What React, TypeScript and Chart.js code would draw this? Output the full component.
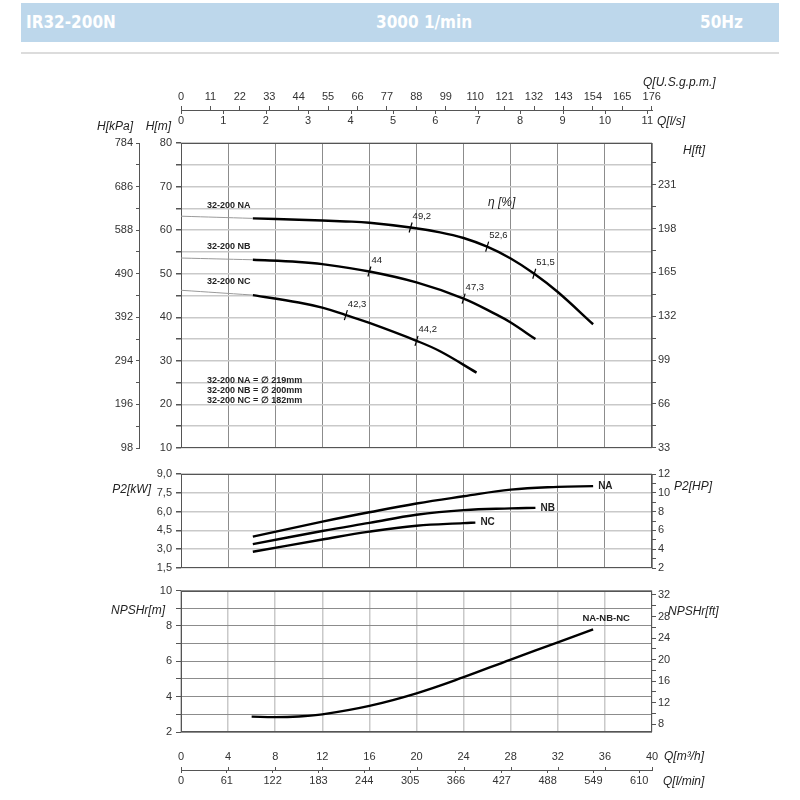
import { useEffect, useRef } from 'react';
import Chart from 'chart.js/auto';

const FONT = '"Liberation Sans", Arial, Helvetica, sans-serif';

// flow axes
const m3hTicks = [0, 4, 8, 12, 16, 20, 24, 28, 32, 36, 40];
const lminTicks = [0, 61, 122, 183, 244, 305, 366, 427, 488, 549, 610];
const gpmTicks = [0, 11, 22, 33, 44, 55, 66, 77, 88, 99, 110, 121, 132, 143, 154, 165, 176];
const lpsTicks = [0, 1, 2, 3, 4, 5, 6, 7, 8, 9, 10, 11];

// head / power / npsh axes
const headMTicks = [10, 20, 30, 40, 50, 60, 70, 80];
const headKpaTicks = [98, 196, 294, 392, 490, 588, 686, 784];
const headFtTicks = [33, 66, 99, 132, 165, 198, 231];
const p2KwTicks = [1.5, 3, 4.5, 6, 7.5, 9];
const p2HpTicks = [2, 4, 6, 8, 10, 12];
const npshMTicks = [2, 4, 6, 8, 10];
const npshFtTicks = [8, 12, 16, 20, 24, 28, 32];

// H-Q curves [m3/h, m]
const qNA = [6.1, 10, 14, 16, 19.5, 22, 24, 26, 28, 30, 32, 35];
const hNA = [62.7, 62.4, 62.0, 61.7, 60.6, 59.5, 58.2, 56.2, 53.5, 50.0, 45.8, 38.4];
const qNB = [6.1, 10, 12, 16, 20, 24, 26.8, 28, 30.1];
const hNB = [53.2, 52.7, 52.2, 50.5, 48.0, 44.3, 40.6, 38.8, 35.0];
const qNC = [6.1, 10, 12, 14, 16, 20, 22, 25.1];
const hNC = [45.1, 43.4, 42.2, 40.5, 38.7, 34.6, 32.2, 27.3];

// thin extension to shut-off head
const qShut = [0, 6.1];
const hShutNA = [63.2, 62.7];
const hShutNB = [53.6, 53.2];
const hShutNC = [46.2, 45.1];

// efficiency marks
const effQNA = [19.5, 26, 30];
const effHNA = [60.6, 56.2, 50.0];
const effNA = ['49,2', '52,6', '51,5'];
const effQNB = [16, 24];
const effHNB = [50.5, 44.3];
const effNB = ['44', '47,3'];
const effQNC = [14, 20];
const effHNC = [40.5, 34.6];
const effNC = ['42,3', '44,2'];

// P2 curves [m3/h, kW]
const qP2NA = [6.1, 12, 16, 20, 24, 28, 32, 35];
const p2NA = [4.0, 5.2, 5.95, 6.65, 7.22, 7.75, 7.97, 8.03];
const qP2NB = [6.1, 12, 16, 20, 24, 28, 30.1];
const p2NB = [3.4, 4.45, 5.1, 5.75, 6.12, 6.26, 6.3];
const qP2NC = [6.1, 12, 16, 20, 24, 25];
const p2NC = [2.8, 3.77, 4.4, 4.87, 5.08, 5.12];

// NPSHr [m3/h, m]
const qNpsh = [6, 8, 10, 12, 16, 20, 24, 28, 32, 35];
const npsh = [2.87, 2.84, 2.88, 3.0, 3.48, 4.19, 5.1, 6.1, 7.07, 7.8];

const M_TO_FT = 3.28084;

const ink = '#555';
const darkGrid = '#8c8c8c';
const lightGrid = '#c9c9c9';
const tickFont = { family: FONT, size: 11 };
const italic12 = `italic 12px ${FONT}`;

Chart.defaults.font.family = FONT;

const fixWidth = (w: number) => (s: any) => { s.width = w; };
const fixHeight = (h: number) => (s: any) => { s.height = h; };
const everyStep = (step: number) => (s: any) => {
  const out = [];
  for (let v = Math.ceil(s.min / step - 1e-9) * step; v <= s.max + 1e-9; v += step) {
    out.push({ value: Math.round(v * 1000) / 1000 });
  }
  s.ticks = out;
};
const onlyMajor = (major: number[], fmt: (v: number) => string = (v) => String(v)) =>
  (v: any) => (major.some((m) => Math.abs(m - v) < 1e-6) ? fmt(Number(v)) : '');
const comma = (v: number) => v.toFixed(1).replace('.', ',');

const curve = (q: number[], v: number[], color = '#000', width = 2.4) => ({
  data: q.map((x, i) => ({ x, y: v[i] })),
  showLine: true,
  borderColor: color,
  borderWidth: width,
  pointRadius: 0,
  tension: 0.4,
  fill: false,
});

const label = (ctx: CanvasRenderingContext2D, s: string, x: number, y: number, font: string, align: CanvasTextAlign = 'left', color = '#222') => {
  ctx.font = font;
  ctx.textAlign = align;
  ctx.textBaseline = 'middle';
  ctx.fillStyle = color;
  ctx.fillText(s, x, y);
};

const tickMarks = (ctx: CanvasRenderingContext2D, scale: any, values: number[], base: number, len: number) => {
  values.forEach((v) => {
    const px = Math.round(scale.getPixelForValue(v)) + 0.5;
    ctx.beginPath();
    ctx.moveTo(px, base);
    ctx.lineTo(px, base + len);
    ctx.stroke();
  });
};

const framePlugin = {
  id: 'frame',
  beforeDatasetsDraw(chart: any) {
    const { ctx, chartArea: a } = chart;
    ctx.save();
    ctx.strokeStyle = ink;
    ctx.lineWidth = 1;
    ctx.strokeRect(Math.round(a.left) + 0.5, Math.round(a.top) + 0.5, Math.round(a.right - a.left) - 1, Math.round(a.bottom - a.top) - 1);
    ctx.restore();
  },
};

const hiddenX = (color: string) => ({
  type: 'linear' as const,
  min: 0,
  max: 40,
  afterBuildTicks: everyStep(4),
  afterFit: fixHeight(0),
  ticks: { display: false },
  grid: { color, drawTicks: false },
  border: { display: false },
});

const headPlugin = {
  id: 'headText',
  afterDraw(chart: any) {
    const { ctx, scales } = chart;
    const x = scales.x;
    const y = scales.y;
    ctx.save();
    label(ctx, 'Q[U.S.g.p.m.]', 643, 23, italic12);
    label(ctx, 'Q[l/s]', 657, 62, italic12);
    label(ctx, 'H[kPa]', scales.kpa.right - 6, 67, italic12, 'right');
    label(ctx, 'H[m]', y.left + 32, 67, italic12, 'right');
    label(ctx, 'H[ft]', 683, 91, italic12);
    label(ctx, 'η [%]', 488, 143, italic12);

    // l/s tick marks under the shared axis line
    ctx.strokeStyle = ink;
    ctx.lineWidth = 1;
    tickMarks(ctx, scales.lps, lpsTicks, Math.round(scales.gpm.bottom), 4);

    const bold9 = `bold 9px ${FONT}`;
    label(ctx, '32-200 NA', 207, 146, bold9);
    label(ctx, '32-200 NB', 207, 187, bold9);
    label(ctx, '32-200 NC', 207, 222, bold9);
    label(ctx, '32-200 NA = \u2205 219mm', 207, 321, bold9);
    label(ctx, '32-200 NB = \u2205 200mm', 207, 331, bold9);
    label(ctx, '32-200 NC = \u2205 182mm', 207, 341, bold9);

    const marks: [number[], number[], string[]][] = [
      [effQNA, effHNA, effNA],
      [effQNB, effHNB, effNB],
      [effQNC, effHNC, effNC],
    ];
    ctx.strokeStyle = '#000';
    ctx.lineWidth = 1.2;
    marks.forEach(([qs, hs, ls]) => {
      qs.forEach((q, i) => {
        const px = x.getPixelForValue(q);
        const py = y.getPixelForValue(hs[i]);
        ctx.beginPath();
        ctx.moveTo(px - 1.5, py + 5);
        ctx.lineTo(px + 1.5, py - 5);
        ctx.stroke();
        label(ctx, ls[i], px + 2, py - 11, `9.5px ${FONT}`);
      });
    });
    ctx.restore();
  },
};

const headConfig = (): any => ({
  type: 'scatter',
  data: {
    datasets: [
      curve(qShut, hShutNA, '#9a9a9a', 1),
      curve(qShut, hShutNB, '#9a9a9a', 1),
      curve(qShut, hShutNC, '#9a9a9a', 1),
      curve(qNA, hNA),
      curve(qNB, hNB),
      curve(qNC, hNC),
    ],
  },
  options: {
    animation: false,
    responsive: false,
    events: [],
    layout: { padding: { left: 100, right: 108, top: 20, bottom: 12 } },
    plugins: { legend: { display: false }, tooltip: { enabled: false } },
    scales: {
      x: hiddenX(darkGrid),
      gpm: {
        type: 'linear', axis: 'x', position: 'top', weight: 1, min: 0, max: 176.11,
        afterBuildTicks: (s: any) => { s.ticks = gpmTicks.map((value) => ({ value })); },
        afterFit: fixHeight(30),
        ticks: { font: tickFont, color: '#333', padding: 2, autoSkip: false, maxRotation: 0 },
        grid: { drawOnChartArea: false, tickLength: 4, tickColor: ink },
        border: { color: ink },
      },
      lps: {
        type: 'linear', axis: 'x', position: 'top', weight: 0, min: 0, max: 40 / 3.6,
        afterBuildTicks: (s: any) => { s.ticks = lpsTicks.map((value) => ({ value })); },
        afterFit: fixHeight(33),
        ticks: { font: tickFont, color: '#333', padding: 15, autoSkip: false, maxRotation: 0 },
        grid: { display: false, drawTicks: false },
        border: { display: false },
      },
      y: {
        type: 'linear', position: 'left', weight: 0, min: 10, max: 80,
        afterBuildTicks: everyStep(5),
        afterFit: fixWidth(42),
        ticks: { font: tickFont, color: '#333', padding: 4, autoSkip: false, callback: onlyMajor(headMTicks) },
        grid: { color: lightGrid, lineWidth: 1.5, tickLength: 5, tickColor: ink },
        border: { display: false },
      },
      kpa: {
        type: 'linear', position: 'left', weight: 1, min: 98, max: 784,
        afterBuildTicks: everyStep(49),
        afterFit: fixWidth(39),
        ticks: { font: tickFont, color: '#333', padding: 3, autoSkip: false, callback: onlyMajor(headKpaTicks) },
        grid: { drawOnChartArea: false, tickLength: 3, tickColor: ink },
        border: { color: ink },
      },
      ft: {
        type: 'linear', position: 'right', min: 10 * M_TO_FT, max: 80 * M_TO_FT,
        afterBuildTicks: everyStep(16.5),
        afterFit: fixWidth(40),
        ticks: { font: tickFont, color: '#333', padding: 2, autoSkip: false, callback: onlyMajor(headFtTicks) },
        grid: { drawOnChartArea: false, tickLength: 4, tickColor: ink },
        border: { display: false },
      },
    },
  },
  plugins: [framePlugin, headPlugin],
});

const powerPlugin = {
  id: 'powerText',
  afterDraw(chart: any) {
    const { ctx, scales } = chart;
    ctx.save();
    label(ctx, 'P2[kW]', 151, 30, italic12, 'right');
    label(ctx, 'P2[HP]', 674, 27, italic12);
    const ends: [number[], number[], string][] = [[qP2NA, p2NA, 'NA'], [qP2NB, p2NB, 'NB'], [qP2NC, p2NC, 'NC']];
    ends.forEach(([qs, ps, name]) => {
      const px = scales.x.getPixelForValue(qs[qs.length - 1]);
      const py = scales.y.getPixelForValue(ps[ps.length - 1]);
      label(ctx, name, px + 5, py, `bold 10px ${FONT}`);
    });
    ctx.restore();
  },
};

const powerConfig = (): any => ({
  type: 'scatter',
  data: { datasets: [curve(qP2NA, p2NA), curve(qP2NB, p2NB), curve(qP2NC, p2NC)] },
  options: {
    animation: false,
    responsive: false,
    events: [],
    layout: { padding: { left: 100, right: 108, top: 14, bottom: 12 } },
    plugins: { legend: { display: false }, tooltip: { enabled: false } },
    scales: {
      x: hiddenX(darkGrid),
      y: {
        type: 'linear', position: 'left', min: 1.5, max: 9,
        afterBuildTicks: (s: any) => { s.ticks = p2KwTicks.map((value) => ({ value })); },
        afterFit: fixWidth(81),
        ticks: { font: tickFont, color: '#333', padding: 4, autoSkip: false, callback: onlyMajor(p2KwTicks, comma) },
        grid: { color: lightGrid, lineWidth: 1.5, tickLength: 5, tickColor: ink },
        border: { display: false },
      },
      hp: {
        type: 'linear', position: 'right', min: 2, max: 12,
        afterBuildTicks: everyStep(1),
        afterFit: fixWidth(40),
        ticks: { font: tickFont, color: '#333', padding: 2, autoSkip: false, callback: onlyMajor(p2HpTicks) },
        grid: { drawOnChartArea: false, tickLength: 4, tickColor: ink },
        border: { display: false },
      },
    },
  },
  plugins: [framePlugin, powerPlugin],
});

const npshPlugin = {
  id: 'npshText',
  afterDraw(chart: any) {
    const { ctx, scales } = chart;
    ctx.save();
    label(ctx, 'NPSHr[m]', 165, 31, italic12, 'right');
    label(ctx, 'NPSHr[ft]', 668, 32, italic12);
    const px = scales.x.getPixelForValue(qNpsh[qNpsh.length - 1]);
    const py = scales.y.getPixelForValue(npsh[npsh.length - 1]);
    label(ctx, 'NA-NB-NC', px + 13, py - 11, `bold 9.5px ${FONT}`, 'center');
    label(ctx, 'Q[m\u00b3/h]', 664, 177, italic12);
    label(ctx, 'Q[l/min]', 663, 202, italic12);
    // m3/h marks rising from the l/min line
    ctx.strokeStyle = ink;
    ctx.lineWidth = 1;
    tickMarks(ctx, scales.x, m3hTicks, Math.round(scales.lmin.top), -3);
    ctx.restore();
  },
};

const npshConfig = (): any => ({
  type: 'scatter',
  data: { datasets: [curve(qNpsh, npsh)] },
  options: {
    animation: false,
    responsive: false,
    events: [],
    layout: { padding: { left: 100, right: 108, top: 9, bottom: 10 } },
    plugins: { legend: { display: false }, tooltip: { enabled: false } },
    scales: {
      x: {
        type: 'linear', position: 'bottom', weight: 0, min: 0, max: 40,
        afterBuildTicks: (s: any) => { s.ticks = m3hTicks.map((value) => ({ value })); },
        afterFit: fixHeight(38),
        ticks: { font: tickFont, color: '#333', padding: 18, autoSkip: false, maxRotation: 0 },
        grid: { color: lightGrid, lineWidth: 1.5, drawTicks: false },
        border: { display: false },
      },
      lmin: {
        type: 'linear', axis: 'x', position: 'bottom', weight: 1, min: 0, max: 627,
        afterBuildTicks: (s: any) => { s.ticks = lminTicks.map((value) => ({ value })); },
        afterFit: fixHeight(20),
        ticks: { font: tickFont, color: '#333', padding: 1, autoSkip: false, maxRotation: 0 },
        grid: { drawOnChartArea: false, tickLength: 3, tickColor: ink },
        border: { color: ink },
      },
      y: {
        type: 'linear', position: 'left', min: 2, max: 10,
        afterBuildTicks: everyStep(1),
        afterFit: fixWidth(81),
        ticks: { font: tickFont, color: '#333', padding: 4, autoSkip: false, callback: onlyMajor(npshMTicks) },
        grid: { color: darkGrid, tickLength: 5, tickColor: ink },
        border: { display: false },
      },
      ftn: {
        type: 'linear', position: 'right', min: 2 * M_TO_FT, max: 10 * M_TO_FT,
        afterBuildTicks: everyStep(2),
        afterFit: fixWidth(40),
        ticks: { font: tickFont, color: '#333', padding: 2, autoSkip: false, callback: onlyMajor(npshFtTicks) },
        grid: { drawOnChartArea: false, tickLength: 4, tickColor: ink },
        border: { display: false },
      },
    },
  },
  plugins: [framePlugin, npshPlugin],
});

function Panel({ top, height, build }: { top: number; height: number; build: () => any }) {
  const ref = useRef<HTMLCanvasElement | null>(null);
  useEffect(() => {
    const chart = new Chart(ref.current!, build());
    return () => chart.destroy();
  }, []);
  return (
    <canvas
      ref={ref}
      width={800}
      height={height}
      style={{ position: 'absolute', left: 0, top, width: 800, height }}
    />
  );
}

const headerText = {
  position: 'absolute' as const,
  top: 0,
  lineHeight: '39px',
  color: '#fff',
  fontFamily: '"DejaVu Sans Condensed", "DejaVu Sans", sans-serif',
  fontStretch: 'condensed',
  fontWeight: 700,
  fontSize: 17,
};

const App = () => {
  return (
    <div style={{ position: 'absolute', left: 0, top: 0, width: 800, height: 800, background: '#fff' }}>
      <div style={{ position: 'absolute', left: 21, top: 3, width: 758, height: 39, background: '#bdd7eb' }}>
        <span style={{ ...headerText, left: 5 }}>IR32-200N</span>
        <span style={{ ...headerText, left: 355 }}>3000 1/min</span>
        <span style={{ ...headerText, left: 679 }}>50Hz</span>
      </div>
      <div style={{ position: 'absolute', left: 21, top: 52, width: 758, height: 2, background: '#dcdcdc' }} />
      <Panel top={60} height={400} build={headConfig} />
      <Panel top={460} height={120} build={powerConfig} />
      <Panel top={580} height={220} build={npshConfig} />
    </div>
  );
};

export default App;
